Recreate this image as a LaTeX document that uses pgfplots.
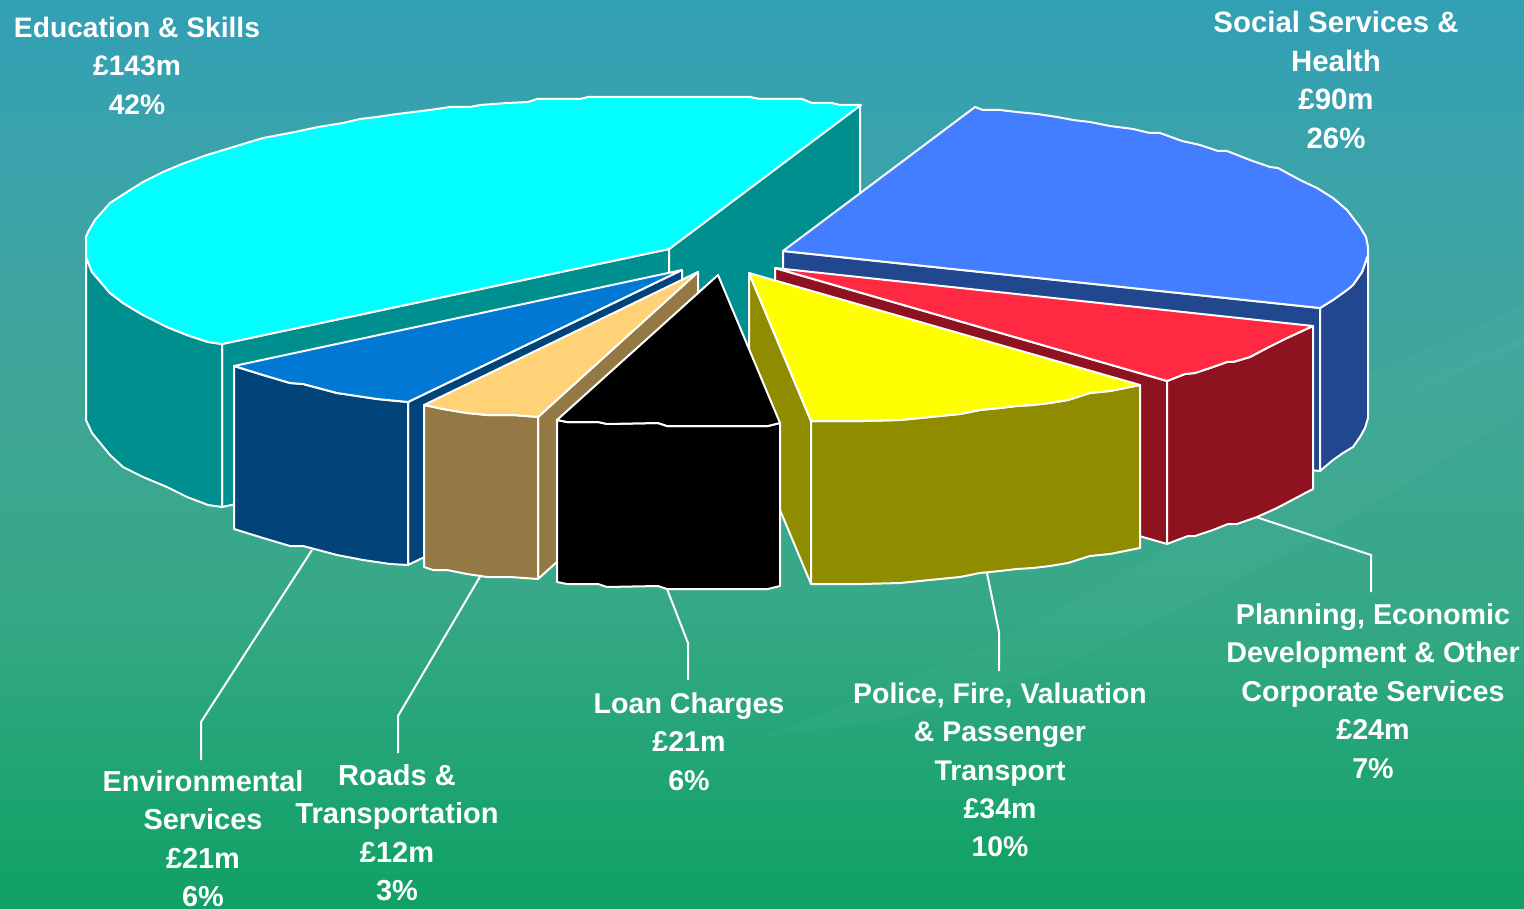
\documentclass[border=0pt]{standalone}
\usepackage{fontspec}
\setmainfont{Liberation Sans}
\usepackage{pgfplots}
\pgfplotsset{compat=1.18}

\definecolor{cyantop}{HTML}{00FFFF}
\definecolor{cyanside}{HTML}{008F8F}
\definecolor{bluetop}{HTML}{427EFF}
\definecolor{blueside}{HTML}{21478F}
\definecolor{redtop}{HTML}{FF2A42}
\definecolor{redside}{HTML}{8F1221}
\definecolor{yeltop}{HTML}{FFFF00}
\definecolor{yelside}{HTML}{8F8C00}
\definecolor{envtop}{HTML}{0078D4}
\definecolor{envside}{HTML}{00447A}
\definecolor{tantop}{HTML}{FFD278}
\definecolor{tanside}{HTML}{947944}

\definecolor{bga}{RGB}{17,160,102}
\definecolor{bgb}{RGB}{20,162,104}
\definecolor{bgc}{RGB}{35,165,118}
\definecolor{bgd}{RGB}{55,168,135}
\definecolor{bge}{RGB}{62,166,150}
\definecolor{bgf}{RGB}{60,163,168}
\definecolor{bgg}{RGB}{50,160,181}
\pgfdeclareverticalshading{bgshade}{100bp}{
  color(0bp)=(bga);
  color(25bp)=(bga);
  color(27.7bp)=(bgb);
  color(33.7bp)=(bgc);
  color(42bp)=(bgd);
  color(53bp)=(bge);
  color(64bp)=(bgf);
  color(75bp)=(bgg);
  color(100bp)=(bgg)}

\pgfplotsset{
  face/.style={draw=white,line width=2pt,line join=round,mark=none,sharp plot,fill=#1,forget plot},
  leader/.style={draw=white,line width=2pt,line join=miter,mark=none,sharp plot,forget plot},
  swoosh/.style={draw=none,fill=white,fill opacity=0.025,mark=none,sharp plot,forget plot},
}
\tikzset{lbl/.style={text=white,align=center,inner sep=0pt,font=\fontsize{#1}{38.4}\selectfont\bfseries}}

\begin{document}
\begin{tikzpicture}
\path[use as bounding box] (0,0) rectangle (1524pt,909pt);
\clip (0,0) rectangle (1524pt,909pt);
\shade[shading=bgshade] (0,0) rectangle (1524pt,909pt);
\begin{axis}[
  at={(0,0)},anchor=south west,
  scale only axis,width=1524pt,height=909pt,
  xmin=0,xmax=1524,ymin=0,ymax=909,y dir=reverse,
  hide axis,clip=false]

% faint background bands
\addplot[swoosh] coordinates {(760,738)(900,718)(1050,672)(1200,600)(1350,520)(1524,410)(1524,335)(1380,405)(1280,470)(1150,560)(1000,640)(880,690)} --cycle;
\addplot[swoosh] coordinates {(1100,480)(1250,430)(1400,360)(1524,305)(1524,345)(1400,395)(1250,470)} --cycle;

% education & skills: back walls, outer side, top
\addplot[face=cyanside] coordinates {(222,344)(669,249)(669,412)(222,507)} --cycle;
\addplot[face=cyanside] coordinates {(669,249)(860,105)(860,268)(669,412)} --cycle;
\addplot[face=cyanside] coordinates {(86,257)(92,272)(110,293)(123,303)(143,315)(167,327)(187,335)(208,342)(222,344)
  (222,507)(208,505)(187,497)(167,487)(143,477)(123,467)(110,455)(92,433)(86,420)} --cycle;
\addplot[face=cyantop] coordinates {(861,105)(840,105)(832,103)(812,103)(802,99)(760,99)(750,97)(588,97)(580,99)(537,99)(528,102)(507,103)
  (480,105)(470,107)(450,107)(430,110)(397,114)(377,117)(360,119)(343,123)(318,127)(295,132)(263,138)(230,148)(207,155)(182,164)(163,172)(143,182)(127,192)(110,203)(95,220)(88,232)(86,237)
  (86,257)(92,272)(110,293)(123,303)(143,315)(167,327)(187,335)(208,342)(222,344)(669,249)} --cycle;

% social services & health
\addplot[face=blueside] coordinates {(783,251)(1320,308)(1320,471)(783,414)} --cycle;
\addplot[face=blueside] coordinates {(1368,255)(1362,272)(1353,285)(1347,290)(1333,300)(1320,308)(1320,471)(1333,460)(1343,453)(1353,447)(1360,437)(1365,428)(1368,418)} --cycle;
\addplot[face=bluetop] coordinates {(975,107)(983,110)(1000,110)(1017,112)(1037,114)(1057,117)(1073,120)(1090,122)(1110,126)(1133,129)(1150,133)(1160,133)(1182,141)(1200,145)(1218,151)(1227,151)(1250,160)(1270,167)(1278,168)(1300,180)(1317,188)(1333,198)(1347,210)(1360,227)(1366,237)(1368,247)(1368,255)(1362,272)(1353,285)(1347,290)(1333,300)(1320,308)(783,251)} --cycle;

% planning
\addplot[face=redside] coordinates {(775,268)(1167,381)(1167,544)(775,431)} --cycle;
\addplot[face=redside] coordinates {(1167,381)(1185,374)(1195,373)(1213,367)(1227,362)(1233,362)(1250,357)(1267,348)(1287,338)(1313,326)(1313,489)(1277,508)(1257,517)(1237,524)(1228,524)(1213,530)(1195,536)(1188,536)(1167,544)} --cycle;
\addplot[face=redtop] coordinates {(775,268)(1313,326)(1287,338)(1267,348)(1250,357)(1233,362)(1227,362)(1213,367)(1195,373)(1185,374)(1167,381)} --cycle;

% police, fire
\addplot[face=yelside] coordinates {(749,273)(811,421)(811,584)(749,436)} --cycle;
\addplot[face=yelside] coordinates {(811,421)(863,421)(900,420)(930,417)(960,414)(980,410)(1000,408)(1017,406)(1033,405)(1050,403)(1068,400)(1090,393)(1110,391)(1130,387)(1140,385)
  (1140,548)(1130,550)(1110,554)(1090,556)(1068,563)(1050,566)(1033,568)(1017,569)(1000,571)(980,573)(960,577)(930,580)(900,583)(863,584)(811,584)} --cycle;
\addplot[face=yeltop] coordinates {(749,273)(1140,385)(1130,387)(1110,391)(1090,393)(1068,400)(1050,403)(1033,405)(1017,406)(1000,408)(980,410)(960,414)(930,417)(900,420)(863,421)(811,421)} --cycle;

% environmental services
\addplot[face=envside] coordinates {(682,270)(408,402)(408,565)(682,433)} --cycle;
\addplot[face=envside] coordinates {(234,366)(263,375)(290,383)(303,384)(337,393)(357,396)(377,399)(408,402)(408,565)(390,564)(363,560)(337,555)(303,546)(290,546)(263,538)(234,529)} --cycle;
\addplot[face=envtop] coordinates {(682,270)(234,366)(263,375)(290,383)(303,384)(337,393)(357,396)(377,399)(408,402)} --cycle;

% roads & transportation
\addplot[face=tanside] coordinates {(698,272)(538,417)(538,579)(698,435)} --cycle;
\addplot[face=tanside] coordinates {(424,405)(443,409)(467,413)(487,415)(513,415)(538,417)(538,579)(510,577)(487,577)(467,574)(447,570)(433,570)(424,567)} --cycle;
\addplot[face=tantop] coordinates {(698,272)(424,405)(443,409)(467,413)(487,415)(513,415)(538,417)} --cycle;

% loan charges
\addplot[face=black] coordinates {(557,420)(567,422)(598,422)(607,424)(658,423)(667,426)(768,426)(780,423)(780,586)(768,589)(667,589)(658,586)(607,587)(598,584)(567,584)(557,582)} --cycle;
\addplot[face=black] coordinates {(718,275)(557,420)(567,422)(598,422)(607,424)(658,423)(667,426)(768,426)(780,423)} --cycle;

% leader lines
\addplot[leader] coordinates {(312,550)(201,722)(201,760)};
\addplot[leader] coordinates {(481,575)(398,716)(398,753)};
\addplot[leader] coordinates {(667,589)(688,643)(688,680)};
\addplot[leader] coordinates {(987,573)(999,632)(999,671)};
\addplot[leader] coordinates {(1256,517)(1371,555)(1371,592)};

\node[lbl=28.2] at (axis cs:137,65.5) {Education \& Skills\\£143m\\42\%};
\node[lbl=29.4] at (axis cs:1336,80) {Social Services \&\\Health\\£90m\\26\%};
\node[lbl=28.7] at (axis cs:1373,691) {Planning, Economic\\Development \& Other\\Corporate Services\\£24m\\7\%};
\node[lbl=28.4] at (axis cs:1000,770) {Police, Fire, Valuation\\\& Passenger\\Transport\\£34m\\10\%};
\node[lbl=28.6] at (axis cs:689,741.5) {Loan Charges\\£21m\\6\%};
\node[lbl=29] at (axis cs:397,832.5) {Roads \&\\Transportation\\£12m\\3\%};
\node[lbl=28.9] at (axis cs:203,838.5) {Environmental\\Services\\£21m\\6\%};
\end{axis}
\end{tikzpicture}
\end{document}
